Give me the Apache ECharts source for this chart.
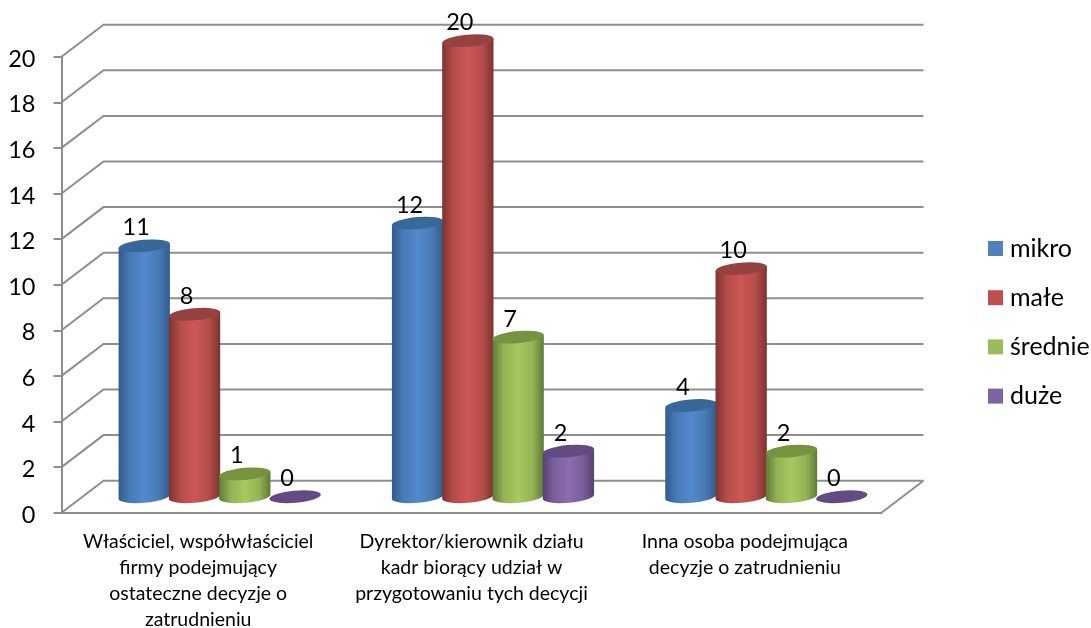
<!DOCTYPE html>
<html>
<head>
<meta charset="utf-8">
<script src="https://cdn.jsdelivr.net/npm/echarts@6/dist/echarts.min.js"></script>
<style>html,body{margin:0;padding:0;background:#fff}#c{width:1091px;height:628px}</style>
</head>
<body>
<div id="c"></div>
<script>
// Kto podejmuje decyzje o zatrudnieniu, według wielkości firmy
const categories = [
  'Właściciel, współwłaściciel\nfirmy podejmujący\nostateczne decyzje o\nzatrudnieniu',
  'Dyrektor/kierownik działu\nkadr biorący udział w\nprzygotowaniu tych decycji',
  'Inna osoba podejmująca\ndecyzje o zatrudnieniu'
];
const seriesNames = ['mikro', 'małe', 'średnie', 'duże'];
const mikro = [11, 12, 4];
const male = [8, 20, 10];
const srednie = [1, 7, 2];
const duze = [0, 2, 0];
const yTicks = [0, 2, 4, 6, 8, 10, 12, 14, 16, 18, 20];

// Colour ramps for the cylinders: edge, shoulder, centre, top cap, legend swatch
const palette = [
  { edge: '#2f5c8e', mid: '#487ab5', centre: '#5389cd', cap: '#38679a', swatch: '#4f81bd' },
  { edge: '#7c3331', mid: '#b44d4a', centre: '#cd5755', cap: '#954240', swatch: '#c0504d' },
  { edge: '#5f7a34', mid: '#93b355', centre: '#a6c960', cap: '#769340', swatch: '#9bbb59' },
  { edge: '#564170', mid: '#7a5f9b', centre: '#8b6cb0', cap: '#634a83', swatch: '#8064a2' }
];

const FONT = 'Lato, Carlito, "Open Sans", sans-serif';
const GRID_COLOR = '#8e8e8e';
const DEPTH_X = 42;   // horizontal shift between the front plane and the back wall
const DEPTH_Y = 32;   // vertical shift between the front plane and the back wall
const BAR_SHARE = 0.184; // bar width as a share of one category
const TILT = 5;       // lean of the elliptical caps, degrees

function ellipsePoints(cx, cy, a) {
  const t = TILT * Math.PI / 180;
  const ox = a * Math.cos(t), oy = a * Math.sin(t);
  return { lx: cx - ox, ly: cy + oy, rx: cx + ox, ry: cy - oy };
}

// Back wall lines with the diagonal running from the value axis to the wall
function renderWall(params, api) {
  const cs = params.coordSys;
  const v = api.value(1);
  const y = api.coord([0, v])[1];
  const x0 = cs.x, x1 = cs.x + cs.width;
  const children = [{
    type: 'polyline',
    shape: { points: [[x0, y], [x0 + DEPTH_X, y - DEPTH_Y], [x1 + DEPTH_X, y - DEPTH_Y]] },
    style: { fill: 'none', stroke: GRID_COLOR, lineWidth: 2 }
  }];
  if (v === 0) {
    children.push({
      type: 'line',
      shape: { x1: x1, y1: y, x2: x1 + DEPTH_X, y2: y - DEPTH_Y },
      style: { stroke: GRID_COLOR, lineWidth: 2 }
    });
  }
  return { type: 'group', children: children };
}

function cylinderRenderer(index) {
  const c = palette[index];
  return function (params, api) {
    const cat = api.value(0), v = api.value(1);
    const base = api.coord([cat, 0]);
    const top = api.coord([cat, v]);
    const step = api.size([1, 0])[0] * BAR_SHARE;
    const a = step / 2 + 0.6;
    const b = a * 0.235;
    const cx = base[0] + DEPTH_X / 2 + 0.5 + (index - 1.5) * step;
    const yb = base[1] - DEPTH_Y / 2;
    const yt = top[1] - DEPTH_Y / 2;
    const pt = ellipsePoints(cx, yt, a);
    const pb = ellipsePoints(cx, yb, a);
    const children = [];
    if (v > 0) {
      children.push({
        type: 'path',
        shape: {
          pathData: 'M' + pt.lx + ' ' + pt.ly + 'L' + pb.lx + ' ' + pb.ly +
            'A' + a + ' ' + b + ' ' + (-TILT) + ' 0 0 ' + pb.rx + ' ' + pb.ry +
            'L' + pt.rx + ' ' + pt.ry + 'Z'
        },
        style: {
          fill: {
            type: 'linear', x: 0, y: 0, x2: 1, y2: 0,
            colorStops: [
              { offset: 0, color: c.edge }, { offset: 0.22, color: c.mid },
              { offset: 0.5, color: c.centre }, { offset: 0.78, color: c.mid },
              { offset: 1, color: c.edge }
            ]
          }
        }
      });
    }
    children.push({
      type: 'path',
      shape: {
        pathData: 'M' + pt.lx + ' ' + pt.ly +
          'A' + a + ' ' + b + ' ' + (-TILT) + ' 0 0 ' + pt.rx + ' ' + pt.ry +
          'A' + a + ' ' + b + ' ' + (-TILT) + ' 0 0 ' + pt.lx + ' ' + pt.ly + 'Z'
      },
      style: { fill: c.cap }
    });
    children.push({
      type: 'text',
      z2: 50,
      style: {
        text: String(v), x: cx - 8, y: yt - 18,
        align: 'center', verticalAlign: 'middle',
        font: '23.5px ' + FONT, fill: '#000'
      }
    });
    return { type: 'group', children: children };
  };
}

const values = [mikro, male, srednie, duze];
const cylinders = values.map((vals, i) => ({
  type: 'custom',
  name: seriesNames[i],
  coordinateSystem: 'cartesian2d',
  itemStyle: { color: palette[i].swatch },
  data: vals.map((v, k) => [k, v]),
  encode: { x: 0, y: 1 },
  renderItem: cylinderRenderer(i),
  z: 3 + i
}));

const chart = echarts.init(document.getElementById('c'), null, { renderer: 'canvas' });
chart.setOption({
  animation: false,
  backgroundColor: '#fff',
  textStyle: { fontFamily: FONT },
  grid: { left: 61.5, right: 209.5, top: 56.7, bottom: 115.3, containLabel: false, outerBoundsMode: 'none' },
  legend: {
    orient: 'vertical',
    left: 983,
    top: 231,
    itemWidth: 15,
    itemHeight: 15,
    itemGap: 24.2,
    icon: 'rect',
    selectedMode: false,
    data: seriesNames,
    textStyle: { fontFamily: FONT, fontSize: 25, color: '#000', lineHeight: 24, padding: [0, 0, 0, 2] }
  },
  xAxis: {
    type: 'category',
    data: categories,
    axisLine: { lineStyle: { color: GRID_COLOR, width: 2 } },
    axisTick: { length: 6, lineStyle: { color: GRID_COLOR, width: 2 } },
    axisLabel: { fontFamily: FONT, fontSize: 19.5, color: '#000', lineHeight: 26, margin: 16, interval: 0 },
    splitLine: { show: false }
  },
  yAxis: {
    type: 'value',
    min: 0,
    max: 20,
    interval: 2,
    axisLine: { show: true, lineStyle: { color: GRID_COLOR, width: 2 } },
    axisTick: { show: true, length: 8, lineStyle: { color: GRID_COLOR, width: 2 } },
    axisLabel: {
      margin: 26, align: 'right',
      formatter: '{v|{value}}',
      rich: { v: { fontFamily: FONT, fontSize: 23.5, color: '#000', padding: [5, 0, 0, 0] } }
    },
    splitLine: { show: false }
  },
  series: [{
    type: 'custom',
    name: 'siatka',
    coordinateSystem: 'cartesian2d',
    data: yTicks.map(v => [0, v]),
    encode: { x: 0, y: 1 },
    renderItem: renderWall,
    silent: true,
    z: 1
  }].concat(cylinders)
});
</script>
</body>
</html>
